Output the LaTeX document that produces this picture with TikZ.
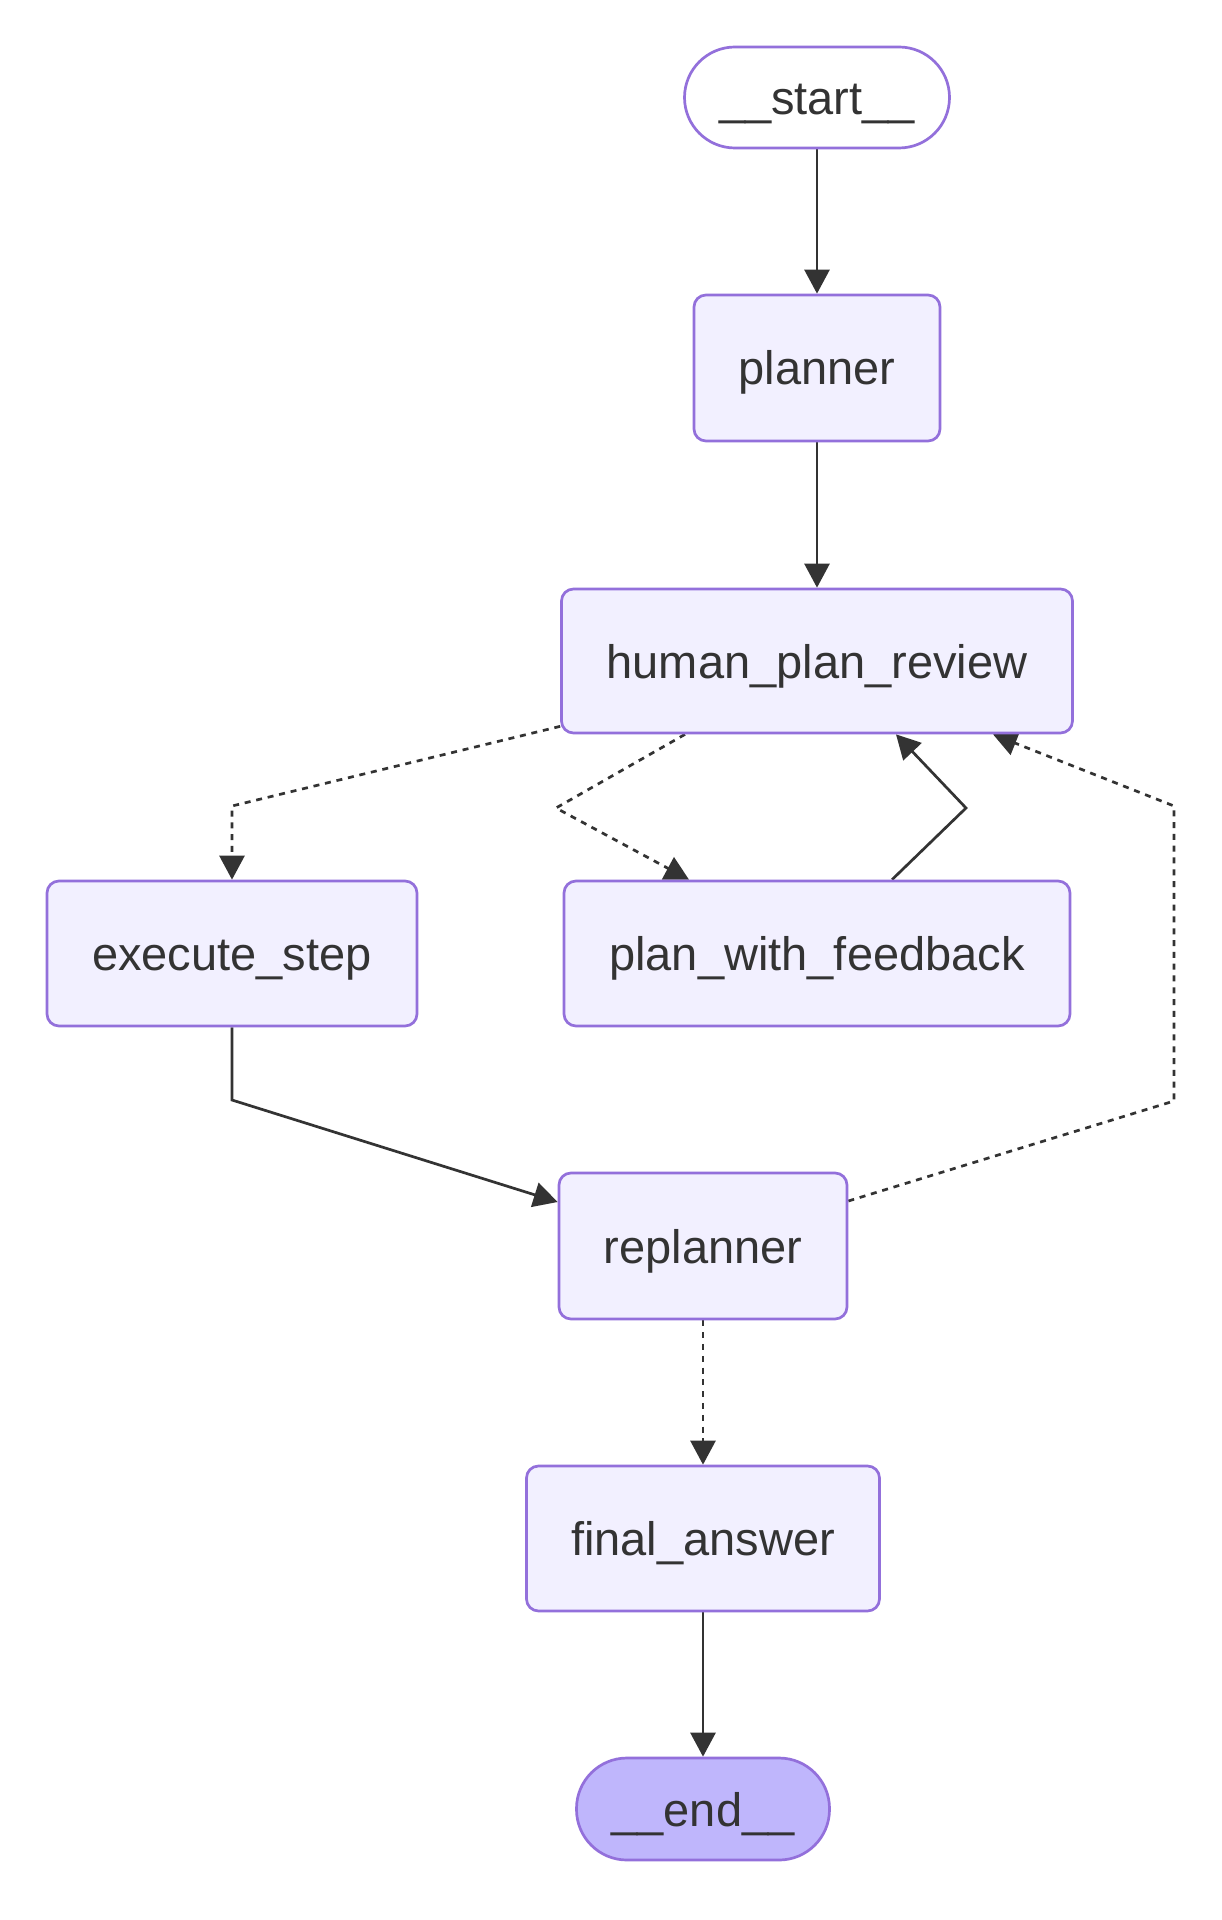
\documentclass[tikz,border=0pt]{standalone}
\usepackage{fontspec}
\setmainfont{Liberation Sans}
\usetikzlibrary{arrows.meta,backgrounds,calc}
\definecolor{nodestroke}{HTML}{9370DB}
\definecolor{nodefill}{HTML}{F2F0FF}
\definecolor{endfill}{HTML}{BFB6FC}
\definecolor{ink}{HTML}{333333}
\tikzset{
  box/.style={draw=nodestroke, fill=nodefill, line width=1.35pt, rounded corners=6pt,
    inner sep=0pt, text=ink, font=\fontsize{23.5pt}{28pt}\selectfont,
    text height=20pt, text depth=3pt},
  terminal/.style={box, rounded corners=25.25pt},
  edge/.style={draw=ink, line width=1.35pt, -{Triangle[length=12pt,width=12.5pt]}, ink},
  dashedge/.style={edge, dash pattern=on 3pt off 2.9pt},
}
\begin{document}
\begin{tikzpicture}[x=0.5pt,y=-0.5pt]
\useasboundingbox (0,0) rectangle (1221,1920);
% nodes
\node[terminal, fill=white, minimum width=132.5pt, minimum height=50.5pt] (start) at (817,97.5) {\_\_start\_\_};
\node[box, minimum width=123pt, minimum height=73pt] (planner) at (817,368) {planner};
\node[box, minimum width=255.5pt, minimum height=72pt] (hpr) at (817,661) {human\_plan\_review};
\node[box, minimum width=185pt, minimum height=72.5pt] (exec) at (232,953.5) {execute\_step};
\node[box, minimum width=253pt, minimum height=72.5pt] (pwf) at (817,953.5) {plan\_with\_feedback};
\node[box, minimum width=144pt, minimum height=73pt] (rep) at (703,1246) {replanner};
\node[box, minimum width=176.5pt, minimum height=72.5pt] (final) at (703,1538.5) {final\_answer};
\node[terminal, fill=endfill, minimum width=126.5pt, minimum height=51pt] (end) at (703,1809) {\_\_end\_\_};
% bend points
\coordinate (k1) at (232,806);
\coordinate (k2) at (556,808);
\coordinate (k3) at (966,808);
\coordinate (k4) at (1174,1101);
\coordinate (k5) at (1174,806);
\coordinate (k6) at (232,1100);
\begin{scope}[on background layer]
\fill[white] (0,0) rectangle (1221,1920);
\draw[edge] (start.south) -- (planner.north);
\draw[edge] (planner.south) -- (hpr.north);
\draw[dashedge] ([yshift=4pt]hpr.south west) -- (k1) -- (exec.north);
\draw[dashedge] ([xshift=-66pt]hpr.south) -- (k2) -- ([xshift=-64pt]pwf.north);
\draw[edge] ([xshift=37.5pt]pwf.north) -- (k3) -- ([xshift=39.5pt]hpr.south);
\draw[dashedge] ([yshift=22.5pt]rep.east) -- (k4) -- (k5) -- ([xshift=88pt]hpr.south);
\draw[edge] (exec.south) -- (k6) -- ([yshift=22pt]rep.west);
\draw[dashedge] (rep.south) -- (final.north);
\draw[edge] (final.south) -- (end.north);
\end{scope}
\end{tikzpicture}
\end{document}
